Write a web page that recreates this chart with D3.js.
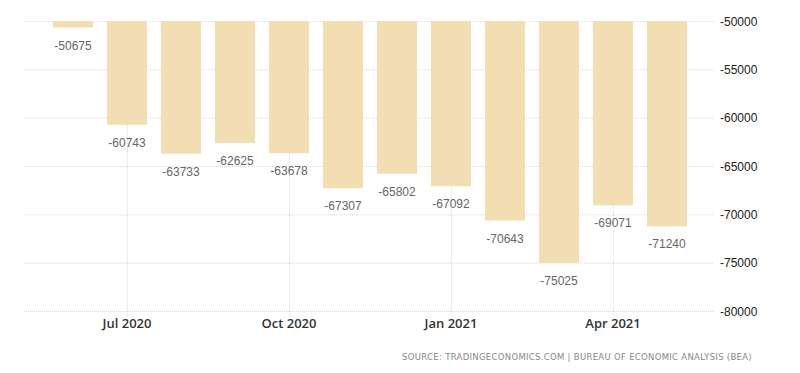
<!DOCTYPE html>
<html>
<head>
<meta charset="utf-8">
<script src="https://cdn.jsdelivr.net/npm/d3@7"></script>
<style>
  body { margin: 0; background: #fff; }
  svg { display: block; }
</style>
</head>
<body>
<svg id="chart"></svg>
<script>
// monthly balance of trade, millions USD
var months = ["2020-06", "2020-07", "2020-08", "2020-09", "2020-10", "2020-11",
              "2020-12", "2021-01", "2021-02", "2021-03", "2021-04", "2021-05"];
var values = [-50675, -60743, -63733, -62625, -63678, -67307,
              -65802, -67092, -70643, -75025, -69071, -71240];
var yTicks = [-50000, -55000, -60000, -65000, -70000, -75000, -80000];
var xTicks = ["2020-07", "2020-10", "2021-01", "2021-04"];
var xTickLabels = ["Jul 2020", "Oct 2020", "Jan 2021", "Apr 2021"];

var W = 800, H = 373;
var svg = d3.select("svg#chart").attr("width", W).attr("height", H);

var x = d3.scaleBand().domain(months).range([46, 694])
  .paddingInner(0.26).paddingOuter(0.13);
var y = d3.scaleLinear().domain([-50000, -80000]).range([21, 311]);

// horizontal grid
svg.append("g").selectAll("line").data(yTicks).enter()
  .append("line")
  .attr("x1", 24).attr("x2", 713)
  .attr("y1", function(d) { return y(d) + 0.5; })
  .attr("y2", function(d) { return y(d) + 0.5; })
  .attr("stroke", "#d9d9d9")
  .attr("stroke-dasharray", "1,1");

// vertical grid
svg.append("g").selectAll("line").data(xTicks).enter()
  .append("line")
  .attr("x1", function(d) { return Math.round(x(d) + x.bandwidth() / 2) + 0.5; })
  .attr("x2", function(d) { return Math.round(x(d) + x.bandwidth() / 2) + 0.5; })
  .attr("y1", 21).attr("y2", 316)
  .attr("stroke", "#d9d9d9")
  .attr("stroke-dasharray", "1,1");

// bars hang down from the top of the axis
svg.append("g").selectAll("rect").data(values).enter()
  .append("rect")
  .attr("x", function(d, i) { return x(months[i]); })
  .attr("width", x.bandwidth())
  .attr("y", y(-50000))
  .attr("height", function(d) { return y(d) - y(-50000); })
  .attr("fill", "#f3ddb3");

// value labels
svg.append("g").selectAll("text").data(values).enter()
  .append("text")
  .attr("x", function(d, i) { return x(months[i]) + x.bandwidth() / 2; })
  .attr("y", function(d) { return y(d) + 22; })
  .attr("text-anchor", "middle")
  .attr("font-family", "'Liberation Sans', Arial, sans-serif")
  .attr("font-size", 12)
  .attr("fill", "#666")
  .text(function(d) { return d; });

// y axis labels (right)
svg.append("g").selectAll("text").data(yTicks).enter()
  .append("text")
  .attr("x", 720)
  .attr("y", function(d) { return y(d) + 4.5; })
  .attr("font-family", "'Liberation Sans', Arial, sans-serif")
  .attr("font-size", 12)
  .attr("fill", "#222")
  .text(function(d) { return d; });

// x axis labels
svg.append("g").selectAll("text").data(xTicks).enter()
  .append("text")
  .attr("x", function(d) { return x(d) + x.bandwidth() / 2; })
  .attr("y", 328)
  .attr("text-anchor", "middle")
  .attr("font-family", "'Open Sans', sans-serif")
  .attr("font-size", 13)
  .attr("font-weight", 600)
  .attr("fill", "#333")
  .text(function(d, i) { return xTickLabels[i]; });

// source
svg.append("text")
  .attr("x", 752).attr("y", 360)
  .attr("text-anchor", "end")
  .attr("font-family", "'DejaVu Sans', sans-serif")
  .attr("font-size", 8.5)
  .attr("letter-spacing", 0.3)
  .attr("fill", "#888")
  .text("SOURCE: TRADINGECONOMICS.COM | BUREAU OF ECONOMIC ANALYSIS (BEA)");
</script>
</body>
</html>
